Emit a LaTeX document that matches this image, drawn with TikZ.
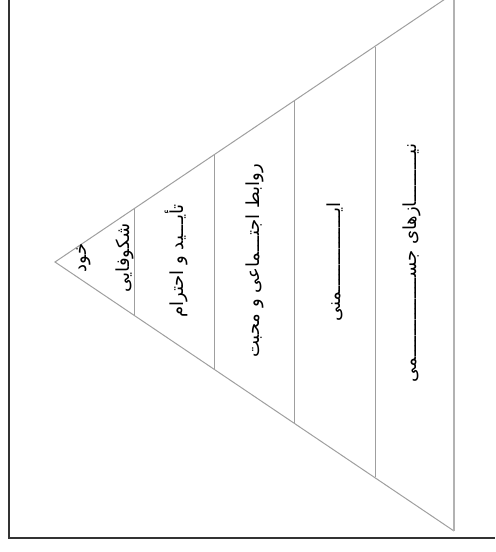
\documentclass[tikz,border=0pt]{standalone}
\usepackage{fontspec}
\newfontfamily\arabicfont[Script=Arabic]{DejaVu Sans}
\TeXXeTstate=1

\begin{document}
\begin{tikzpicture}[x=0.5pt, y=-0.5pt,
        pyrline/.style={draw=gray!75, line width=0.5pt},
        frameline/.style={draw=black!80, line width=0.7pt},
        tiertext/.style={font=\arabicfont\fontsize{9}{11}\selectfont,
                         rotate=90, inner sep=0pt, align=center}
    ]
        \clip (0,0) rectangle (495,552);
        \coordinate (apex) at (55,262);
        \coordinate (top) at (454,-7);
        \coordinate (bot) at (454,531);

        % frame
        \draw[frameline] (9,0) -- (9,538) -- (495,538);

        % pyramid
        \draw[pyrline] (top) -- (apex) -- (bot);
        \draw[gray!60, line width=1pt] (top) -- (bot);
        \foreach \x in {134,214,294,375}
            \draw[pyrline] (\x,{262-0.673*(\x-55)}) -- (\x,{262+0.673*(\x-55)});

        % levels
        \node[tiertext] (self) at (105,258) {\beginR خود\endR\\[10.5pt]\beginR شکوفایی\endR};
        \node[tiertext] (esteem) at (176,261) {\beginR تأیـــید و احترام\endR};
        \node[tiertext] (love) at (255,261) {\beginR روابط اجتـــماعی و محبت\endR};
        \node[tiertext] (safety) at (335,262) {\beginR ایـــــــــــــــمنی\endR};
        \node[tiertext] (physio) at (412,263) {\beginR نیـــــــــازهای جســـــــــــــــمی\endR};
    \end{tikzpicture}
\end{document}
